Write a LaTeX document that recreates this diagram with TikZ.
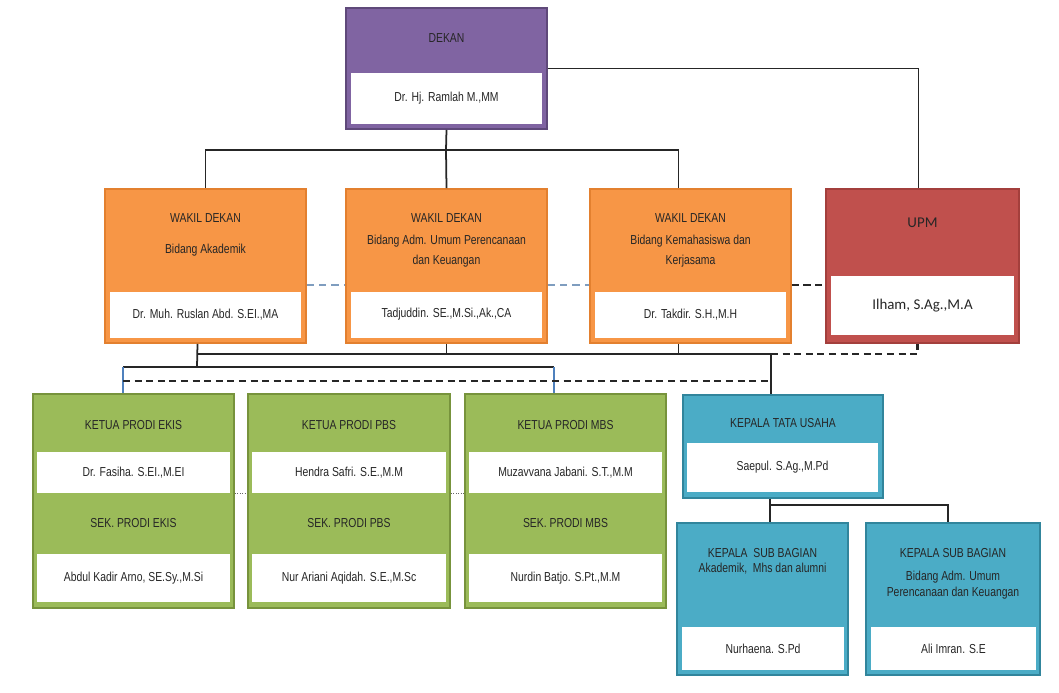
\documentclass[tikz,border=0pt]{standalone}
\usepackage{fontspec}
\setmainfont{Liberation Sans}[FakeStretch=0.8]
\newfontfamily\calfont{Carlito}
\usetikzlibrary{calc}

\definecolor{dekanpurple}{HTML}{8064A2}
\definecolor{dekanedge}{HTML}{5F497A}
\definecolor{wakilorange}{HTML}{F79646}
\definecolor{wakiledge}{HTML}{E3802F}
\definecolor{upmred}{HTML}{C0504D}
\definecolor{upmedge}{HTML}{A33F3C}
\definecolor{prodigreen}{HTML}{9BBB59}
\definecolor{prodiedge}{HTML}{77933C}
\definecolor{tuteal}{HTML}{4BACC6}
\definecolor{tuedge}{HTML}{31859C}
\definecolor{inkgray}{HTML}{262626}
\definecolor{dashblue}{HTML}{7F9DBF}
\definecolor{feedblue}{HTML}{4F81BD}

\begin{document}
\begin{tikzpicture}[x=0.02cm,y=-0.02cm,
    post/.style 2 args={draw=#2,fill=#1,line width=1pt,inner sep=0pt},
    boxsize/.style 2 args={minimum width=#1*0.02cm,minimum height=#2*0.02cm},
    holder/.style={fill=white,inner sep=0pt},
    role/.style={text=inkgray,align=center,font=\fontsize{7.4}{9}\selectfont},
    who/.style={role},
    link/.style={line width=1pt,black!85},
    dashlink/.style={line width=1.6pt,black!85,dash pattern=on 4pt off 2.6pt},
    bluedash/.style={line width=1pt,dashblue,dash pattern=on 4pt off 3pt},
    feed/.style={line width=0.6pt,feedblue},
    dotlink/.style={line width=0.8pt,black!60,dash pattern=on 0.6pt off 0.8pt}]
    \fill[white] (0,0) rectangle (1059,693);
    \useasboundingbox (0,0) rectangle (1059,693);

    % DEKAN
    \node[post={dekanpurple}{dekanedge},boxsize={201}{121}] (dekan) at (446.5,68.5) {};
    \node[holder,who,boxsize={191}{51}] (dekanname) at (446.5,98.5) {Dr. Hj. Ramlah M.,MM};
    \node[role] (dekantitle) at (446.5,38) {DEKAN};

    % WAKIL DEKAN
    \node[post={wakilorange}{wakiledge},boxsize={201}{154}] (wd1) at (205.5,266) {};
    \node[holder,who,boxsize={191}{46}] (wd1name) at (205.5,314.5) {Dr. Muh. Ruslan Abd. S.EI.,MA};
    \node[role] (wd1title) at (205.5,235) {WAKIL DEKAN\\[9pt]Bidang Akademik};

    \node[post={wakilorange}{wakiledge},boxsize={201}{154}] (wd2) at (446.5,266) {};
    \node[holder,who,boxsize={191}{46}] (wd2name) at (446.5,314.5) {Tadjuddin. SE.,M.Si.,Ak.,CA};
    \node[role] (wd2title) at (446.5,240) {WAKIL DEKAN\\[3.5pt]Bidang Adm. Umum Perencanaan\\[2.3pt]dan Keuangan};

    \node[post={wakilorange}{wakiledge},boxsize={201}{154}] (wd3) at (690.5,266) {};
    \node[holder,who,boxsize={191}{46}] (wd3name) at (690.5,314.5) {Dr. Takdir. S.H.,M.H};
    \node[role] (wd3title) at (690.5,240.5) {WAKIL DEKAN\\[3.5pt]Bidang Kemahasiswa dan\\[2.3pt]Kerjasama};

    % UPM
    \node[post={upmred}{upmedge},boxsize={193}{154}] (upm) at (922.5,266) {};
    \node[holder,boxsize={183}{59},text=inkgray,font=\calfont\fontsize{8.5}{10}\selectfont] (upmname) at (922.5,305.5) {Ilham, S.Ag.,M.A};
    \node[text=inkgray,font=\calfont\fontsize{8.5}{10}\selectfont] (upmtitle) at (922.5,223) {UPM};

    % PRODI
    \node[post={prodigreen}{prodiedge},boxsize={201}{214}] (ekis) at (133.5,501) {};
    \node[holder,who,boxsize={193}{41}] (ekisketua) at (133.5,472.5) {Dr. Fasiha. S.EI.,M.EI};
    \node[holder,who,boxsize={193}{48}] (ekissek) at (133.5,578) {Abdul Kadir Arno, SE.Sy.,M.Si};
    \node[role] (ekistitle) at (133.5,425) {KETUA PRODI EKIS};
    \node[role] (ekissektitle) at (133.5,523) {SEK. PRODI EKIS};

    \node[post={prodigreen}{prodiedge},boxsize={202}{214}] (pbs) at (349,501) {};
    \node[holder,who,boxsize={194}{41}] (pbsketua) at (349,472.5) {Hendra Safri. S.E.,M.M};
    \node[holder,who,boxsize={194}{48}] (pbssek) at (349,578) {Nur Ariani Aqidah. S.E.,M.Sc};
    \node[role] (pbstitle) at (349,425) {KETUA PRODI PBS};
    \node[role] (pbssektitle) at (349,523) {SEK. PRODI PBS};

    \node[post={prodigreen}{prodiedge},boxsize={201}{214}] (mbs) at (565.5,501) {};
    \node[holder,who,boxsize={193}{41}] (mbsketua) at (565.5,472.5) {Muzavvana Jabani. S.T.,M.M};
    \node[holder,who,boxsize={193}{48}] (mbssek) at (565.5,578) {Nurdin Batjo. S.Pt.,M.M};
    \node[role] (mbstitle) at (565.5,425) {KETUA PRODI MBS};
    \node[role] (mbssektitle) at (565.5,523) {SEK. PRODI MBS};

    % TATA USAHA
    \node[post={tuteal}{tuedge},boxsize={200}{103}] (tu) at (783,446.5) {};
    \node[holder,who,boxsize={191}{49}] (tuname) at (782.5,467.5) {Saepul. S.Ag.,M.Pd};
    \node[role] (tutitle) at (783,423) {KEPALA TATA USAHA};

    \node[post={tuteal}{tuedge},boxsize={171}{152}] (sub1) at (762.5,599) {};
    \node[holder,who,boxsize={162}{43}] (sub1name) at (763,648.5) {Nurhaena. S.Pd};
    \node[role] (sub1title) at (762.5,561.5) {KEPALA~ SUB BAGIAN\\[-0.5pt]Akademik,~ Mhs dan alumni};

    \node[post={tuteal}{tuedge},boxsize={174}{152}] (sub2) at (953,599) {};
    \node[holder,who,boxsize={165}{43}] (sub2name) at (953.5,648.5) {Ali Imran. S.E};
    \node[role] (sub2title) at (953,573.5) {KEPALA SUB BAGIAN\\[4pt]Bidang Adm. Umum\\Perencanaan dan Keuangan};

    % lines from dekan
    \coordinate (bus1) at (446,150);
    \coordinate (wd3head) at ($(wd3.north)+(-12,0)$);
    \draw[link] (dekan.south) -- (bus1);
    \draw[link] (wd1.north) |- (bus1) -| (wd3head);
    \draw[link] (bus1) -- (wd2.north);
    \draw[link] (dekan.east) -| ($(upm.north)+(-4,0)$);

    % side links
    \draw[bluedash] ($(wd1.east)+(0,19)$) -- ($(wd2.west)+(0,19)$);
    \draw[bluedash] ($(wd2.east)+(0,19)$) -- ($(wd3.west)+(0,19)$);
    \draw[dashlink] ($(wd3.east)+(0,19)$) -- ($(upm.west)+(0,19)$);

    % lines to prodi and tata usaha
    \coordinate (bus2) at (771,354);
    \coordinate (bus3) at (197,367);
    \coordinate (bus3w) at (123,367);
    \coordinate (bus3e) at (554,367);
    \coordinate (wd3foot) at ($(wd3.south)+(-12,0)$);
    \coordinate (dashw) at (123,381);
    \draw[link] ($(wd1.south)+(-8,0)$) -- (bus3);
    \draw[link] (bus3 |- bus2) -- (bus2);
    \draw[link] (wd2.south) -- (wd2.south |- bus2);
    \draw[link] (wd3foot) -- (wd3foot |- bus2);
    \draw[link] (bus2) -- (bus2 |- tu.north);
    \draw[dashlink] (bus2) -| ($(upm.south)+(-5,0)$);
    \draw[link,line width=0.8pt] (bus3w) -- (bus3e);
    \draw[feed] (bus3w) -- (bus3w |- ekis.north);
    \draw[feed] (bus3e) -- (bus3e |- mbs.north);
    \draw[dashlink] (dashw) -- (dashw -| bus2);

    % dotted between prodi
    \draw[dotlink] (ekisketua.south -| ekis.east) -- (ekisketua.south -| pbs.west);
    \draw[dotlink] (pbsketua.south -| pbs.east) -- (pbsketua.south -| mbs.west);

    % tata usaha to sub bagian
    \coordinate (bus4) at (770,505);
    \coordinate (bus4e) at (948,505);
    \draw[link] (bus4 |- tu.south) -- (bus4 |- sub1.north);
    \draw[link] (bus4) -- (bus4e) -- (bus4e |- sub2.north);
\end{tikzpicture}
\end{document}
